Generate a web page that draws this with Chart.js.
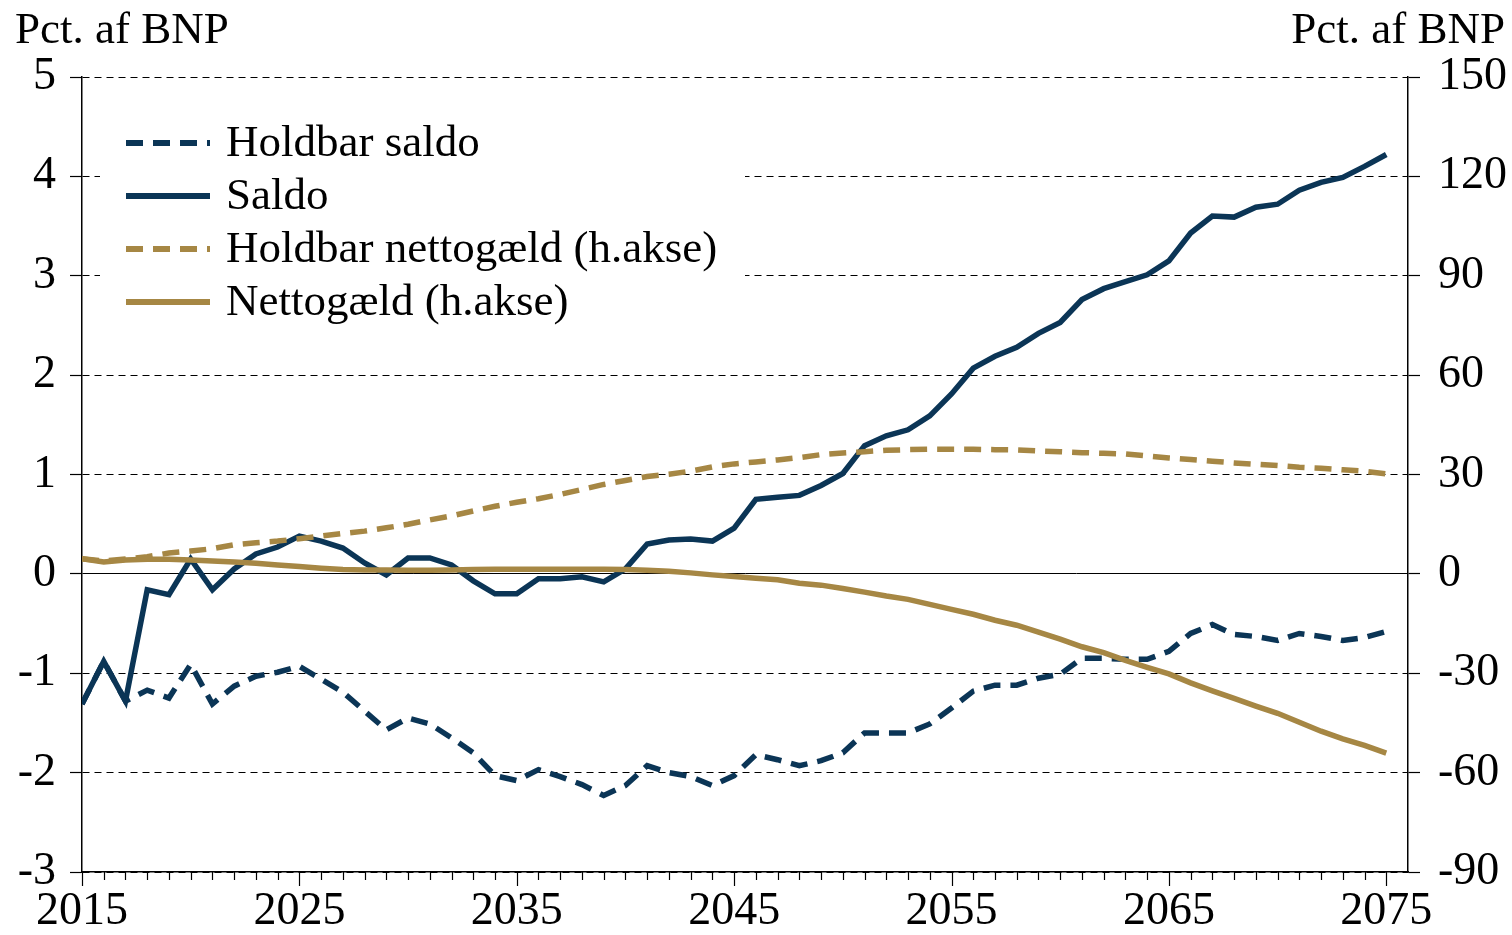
<!DOCTYPE html>
<html>
<head>
<meta charset="utf-8">
<script src="https://cdn.jsdelivr.net/npm/chart.js@4.4.1/dist/chart.umd.min.js"></script>
<style>
  html, body { margin: 0; padding: 0; background: #fff; }
  canvas { display: block; }
</style>
</head>
<body>
<canvas id="chart" width="1512" height="935"></canvas>
<script>
// Data, pct. af BNP
const years = [
  2015, 2016, 2017, 2018, 2019, 2020, 2021, 2022, 2023, 2024,
  2025, 2026, 2027, 2028, 2029, 2030, 2031, 2032, 2033, 2034,
  2035, 2036, 2037, 2038, 2039, 2040, 2041, 2042, 2043, 2044,
  2045, 2046, 2047, 2048, 2049, 2050, 2051, 2052, 2053, 2054,
  2055, 2056, 2057, 2058, 2059, 2060, 2061, 2062, 2063, 2064,
  2065, 2066, 2067, 2068, 2069, 2070, 2071, 2072, 2073, 2074,
  2075
];

const holdbarSaldo = [
  -1.31, -0.88, -1.28, -1.17, -1.25, -0.91, -1.31, -1.13, -1.03, -0.99,
  -0.93, -1.06, -1.19, -1.38, -1.57, -1.45, -1.51, -1.65, -1.80, -2.03,
  -2.08, -1.97, -2.04, -2.12, -2.23, -2.13, -1.93, -2.00, -2.04, -2.13,
  -2.03, -1.82, -1.87, -1.93, -1.88, -1.80, -1.60, -1.60, -1.60, -1.51,
  -1.35, -1.18, -1.12, -1.12, -1.05, -1.01, -0.85, -0.85, -0.86, -0.86,
  -0.78, -0.60, -0.51, -0.61, -0.63, -0.67, -0.60, -0.63, -0.67, -0.64,
  -0.58
];

const saldo = [
  -1.31, -0.88, -1.28, -0.16, -0.21, 0.15, -0.16, 0.05, 0.20, 0.27,
  0.38, 0.33, 0.26, 0.11, -0.01, 0.16, 0.16, 0.09, -0.07, -0.20,
  -0.20, -0.05, -0.05, -0.03, -0.08, 0.05, 0.30, 0.34, 0.35, 0.33,
  0.46, 0.75, 0.77, 0.79, 0.89, 1.01, 1.29, 1.39, 1.45, 1.59,
  1.81, 2.07, 2.19, 2.28, 2.42, 2.53, 2.76, 2.87, 2.94, 3.01,
  3.15, 3.43, 3.60, 3.59, 3.69, 3.72, 3.86, 3.94, 3.99, 4.10,
  4.22
];

// right axis
const holdbarGaeld = [
  4.6, 3.9, 4.5, 5.2, 6.3, 6.9, 7.6, 8.8, 9.4, 9.9,
  10.6, 11.4, 12.2, 12.9, 13.9, 15.0, 16.3, 17.5, 19.0, 20.4,
  21.6, 22.7, 24.0, 25.5, 27.0, 28.2, 29.4, 30.1, 31.0, 32.3,
  33.2, 33.8, 34.4, 35.1, 36.0, 36.5, 36.9, 37.3, 37.5, 37.6,
  37.6, 37.6, 37.5, 37.4, 37.1, 36.9, 36.6, 36.4, 36.2, 35.6,
  35.0, 34.5, 34.0, 33.5, 33.1, 32.7, 32.2, 31.9, 31.4, 31.0,
  30.2
];

const nettoGaeld = [
  4.6, 3.6, 4.2, 4.4, 4.4, 4.2, 3.9, 3.6, 3.2, 2.7,
  2.2, 1.7, 1.3, 1.2, 1.2, 1.1, 1.1, 1.2, 1.3, 1.4,
  1.4, 1.4, 1.4, 1.4, 1.4, 1.3, 1.1, 0.8, 0.3, -0.3,
  -0.8, -1.3, -1.8, -2.8, -3.4, -4.4, -5.5, -6.7, -7.7, -9.2,
  -10.7, -12.2, -14.0, -15.5, -17.6, -19.7, -22.0, -23.8, -26.1, -28.2,
  -30.2, -32.9, -35.3, -37.6, -39.9, -42.1, -44.8, -47.5, -49.8, -51.8,
  -54.1
];

const xLabels = [2015, 2025, 2035, 2045, 2055, 2065, 2075];
const axisTitle = 'Pct. af BNP';

const navy = '#0b3556';
const gold = '#a68744';
const FONT = '"Liberation Serif", "Times New Roman", serif';

function pts(vals) {
  return years.map((yr, i) => ({ x: yr, y: vals[i] }));
}

// titles above both y axes
const titlePlugin = {
  id: 'titles',
  afterDraw(chart) {
    const ctx = chart.ctx;
    ctx.save();
    ctx.fillStyle = '#000';
    ctx.font = '45px ' + FONT;
    ctx.textBaseline = 'alphabetic';
    ctx.textAlign = 'left';
    ctx.fillText(axisTitle, 15, 43);
    ctx.textAlign = 'right';
    ctx.fillText(axisTitle, 1505, 43);
    ctx.restore();
  }
};

// yearly tick marks under the x axis
const xTicksPlugin = {
  id: 'xTicks',
  afterDraw(chart) {
    const xs = chart.scales.x;
    const bottom = chart.chartArea.bottom;
    const ctx = chart.ctx;
    ctx.save();
    ctx.strokeStyle = '#000';
    ctx.lineWidth = 1.2;
    years.forEach(yr => {
      const px = Math.round(xs.getPixelForValue(yr)) + 0.5;
      const len = xLabels.includes(yr) ? 14 : 8;
      ctx.beginPath();
      ctx.moveTo(px, bottom);
      ctx.lineTo(px, bottom + len);
      ctx.stroke();
    });
    ctx.restore();
  }
};

// legend in a white box inside the plot
const legendPlugin = {
  id: 'boxLegend',
  beforeDatasetsDraw(chart) {
    const ctx = chart.ctx;
    ctx.save();
    ctx.fillStyle = '#fff';
    ctx.fillRect(100, 105, 645, 232);
    ctx.restore();
  },
  afterDraw(chart) {
    const ctx = chart.ctx;
    chart.data.datasets.forEach((ds, i) => {
      const y = 143 + i * 53;
      ctx.save();
      ctx.strokeStyle = ds.borderColor;
      ctx.lineWidth = 6;
      ctx.setLineDash(ds.borderDash || []);
      ctx.beginPath();
      ctx.moveTo(126, y);
      ctx.lineTo(210, y);
      ctx.stroke();
      ctx.restore();
      ctx.save();
      ctx.fillStyle = '#000';
      ctx.font = '45px ' + FONT;
      ctx.textBaseline = 'middle';
      ctx.fillText(ds.label, 226, y + 1);
      ctx.restore();
    });
  }
};

new Chart(document.getElementById('chart'), {
  type: 'line',
  data: {
    datasets: [
      {
        label: 'Holdbar saldo',
        data: pts(holdbarSaldo),
        yAxisID: 'y',
        borderColor: navy,
        borderDash: [17, 10],
        borderWidth: 5.5,
        order: 4
      },
      {
        label: 'Saldo',
        data: pts(saldo),
        yAxisID: 'y',
        borderColor: navy,
        borderWidth: 5.5,
        order: 3
      },
      {
        label: 'Holdbar nettogæld (h.akse)',
        data: pts(holdbarGaeld),
        yAxisID: 'y2',
        borderColor: gold,
        borderDash: [17, 10],
        borderWidth: 5.5,
        order: 2
      },
      {
        label: 'Nettogæld (h.akse)',
        data: pts(nettoGaeld),
        yAxisID: 'y2',
        borderColor: gold,
        borderWidth: 5.5,
        order: 1
      }
    ]
  },
  options: {
    responsive: false,
    animation: false,
    events: [],
    layout: { padding: { top: 77, left: 0, right: 0, bottom: 0 } },
    elements: {
      point: { radius: 0 },
      line: { tension: 0, fill: false, borderCapStyle: 'butt', borderJoinStyle: 'miter' }
    },
    plugins: {
      legend: { display: false },
      tooltip: { enabled: false }
    },
    scales: {
      x: {
        type: 'linear',
        position: 'bottom',
        min: 2015,
        max: 2076,
        afterFit(scale) { scale.height = 63; },
        afterBuildTicks(scale) {
          scale.ticks = xLabels.map(v => ({ value: v }));
        },
        ticks: {
          autoSkip: false,
          maxRotation: 0,
          padding: 12,
          color: '#000',
          font: { family: FONT, size: 46 },
          callback: v => String(v)
        },
        grid: { display: true, drawOnChartArea: false, drawTicks: false },
        border: { display: true, color: '#000', width: 1.5 }
      },
      y: {
        position: 'left',
        min: -3,
        max: 5,
        afterFit(scale) { scale.width = 82; },
        ticks: {
          stepSize: 1,
          padding: 14,
          color: '#000',
          font: { family: FONT, size: 46 }
        },
        grid: {
          color: '#000',
          lineWidth: 1,
          tickLength: 12,
          tickColor: '#000',
          tickWidth: 1.2
        },
        border: {
          display: true,
          color: '#000',
          width: 1.5,
          dash: c => (c.tick && c.tick.value === 0) ? [] : [7, 5]
        }
      },
      y2: {
        position: 'right',
        min: -90,
        max: 150,
        afterFit(scale) { scale.width = 104; },
        ticks: {
          stepSize: 30,
          padding: 18,
          color: '#000',
          font: { family: FONT, size: 46 }
        },
        grid: {
          drawOnChartArea: false,
          tickLength: 12,
          tickColor: '#000',
          tickWidth: 1.2
        },
        border: { display: true, color: '#000', width: 1.5 }
      }
    }
  },
  plugins: [titlePlugin, xTicksPlugin, legendPlugin]
});
</script>
</body>
</html>
